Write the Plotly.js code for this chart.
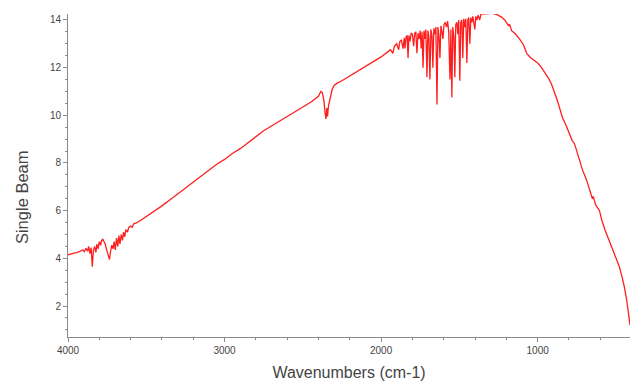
<!DOCTYPE html>
<html>
<head>
<meta charset="utf-8">
<script src="https://cdn.plot.ly/plotly-3.0.1.min.js"></script>
<style>html,body{margin:0;padding:0;background:#fff;}#chart{width:632px;height:383px;}</style>
</head>
<body>
<div id="chart"></div>
<script>
const wavenumbers = [4000,3980,3960,3940,3920,3905,3895,3885,3875,3868,3860,3852,3845,3838,3830,3822,3815,3808,3800,3792,3785,3777,3770,3762,3755,3745,3735,3728,3720,3712,3705,3698,3690,3682,3675,3668,3660,3652,3645,3638,3630,3620,3612,3600,3590,3580,3560,3535,3500,3450,3400,3350,3300,3250,3200,3150,3100,3050,3000,2950,2900,2850,2800,2750,2700,2650,2600,2550,2500,2450,2400,2385,2375,2365,2358,2352,2347,2342,2336,2330,2322,2312,2300,2280,2250,2200,2150,2100,2050,2000,1960,1940,1925,1915,1900,1888,1880,1870,1860,1852,1847,1840,1833,1828,1822,1815,1808,1800,1792,1785,1778,1771,1764,1757,1750,1744,1738,1732,1726,1720,1714,1707,1701,1695,1688,1682,1675,1669,1663,1656,1650,1643,1637,1630,1624,1618,1611,1605,1598,1590,1582,1575,1568,1560,1554,1548,1542,1535,1529,1523,1516,1510,1504,1497,1491,1484,1478,1472,1465,1459,1452,1446,1440,1433,1427,1420,1414,1408,1401,1395,1388,1380,1370,1362,1350,1320,1290,1260,1230,1210,1195,1185,1180,1166,1140,1115,1090,1070,1050,1020,1000,975,950,930,911,890,873,855,841,820,800,780,764,740,713,688,665,655,650,645,630,605,590,570,550,530,510,490,478,460,446,430,418,410];
const singleBeam = [4.15,4.2,4.22,4.25,4.3,4.35,4.28,4.42,4.3,4.5,4.2,4.45,3.65,4.3,4.5,4.25,4.6,4.4,4.7,4.55,4.75,4.8,4.7,4.6,4.4,4.2,3.95,4.3,4.55,4.4,4.7,4.35,4.85,4.5,4.95,4.6,5.0,4.75,5.1,4.9,5.2,5.1,5.3,5.35,5.3,5.45,5.5,5.6,5.75,5.95,6.2,6.45,6.7,6.95,7.2,7.45,7.7,7.95,8.15,8.4,8.6,8.85,9.1,9.35,9.55,9.75,9.95,10.15,10.35,10.55,10.8,11.0,10.95,10.6,10.1,9.85,10.3,9.95,10.4,10.6,10.9,11.1,11.25,11.35,11.45,11.65,11.85,12.05,12.25,12.45,12.65,12.75,12.6,12.9,13.0,12.75,13.1,13.15,12.8,13.25,12.8,13.3,13.35,12.4,13.35,13.1,13.45,13.4,12.9,13.45,13.5,12.6,13.45,13.2,13.55,12.8,13.5,12.0,13.55,13.2,13.6,11.6,13.55,13.3,11.5,13.6,13.35,12.0,13.65,13.4,13.7,10.45,13.7,13.3,12.4,13.75,13.5,13.2,13.8,13.9,13.7,13.95,13.5,11.5,13.6,10.75,13.7,13.3,11.6,13.8,13.9,13.4,14.0,11.45,13.9,14.0,12.4,14.05,13.7,14.05,12.2,14.0,14.1,13.0,14.1,13.9,14.15,13.8,13.6,14.15,14.0,14.2,14.0,14.25,14.25,14.28,14.28,14.22,14.12,14.0,13.85,13.75,13.82,13.55,13.4,13.2,12.95,12.6,12.45,12.3,12.2,12.0,11.75,11.55,11.3,10.95,10.6,10.2,9.9,9.6,9.3,8.95,8.8,8.3,7.7,7.3,6.85,6.65,6.5,6.6,6.25,6.0,5.6,5.2,4.85,4.5,4.15,3.85,3.65,3.2,2.8,2.2,1.6,1.2];
const xTickVals = [4000,3000,2000,1000];
const xTickText = ['4000','3000','2000','1000'];
const yTickVals = [2,4,6,8,10,12,14];

const axisColor = '#8a8a8a';
const textColor = '#444';

Plotly.newPlot('chart', [{
  x: wavenumbers, y: singleBeam, type: 'scatter', mode: 'lines',
  line: {color: 'rgb(255,30,30)', width: 1.3}, hoverinfo: 'skip'
}], {
  width: 632, height: 383,
  margin: {l: 68, r: 2, t: 14, b: 46},
  paper_bgcolor: '#fff', plot_bgcolor: '#fff',
  showlegend: false,
  font: {family: 'Liberation Sans, Arial, sans-serif', color: textColor},
  xaxis: {
    range: [4000, 410], tickmode: 'array', tickvals: xTickVals, ticktext: xTickText,
    showgrid: false, zeroline: false, showline: true, linecolor: axisColor, linewidth: 1,
    ticks: 'outside', ticklen: 4, tickcolor: axisColor,
    minor: {dtick: 200, ticks: 'outside', ticklen: 2, tickcolor: axisColor, showgrid: false},
    tickfont: {size: 10, color: textColor},
    title: {text: 'Wavenumbers (cm-1)', font: {size: 16, color: textColor}, standoff: 11}
  },
  yaxis: {
    range: [0.7, 14.25], tickmode: 'array', tickvals: yTickVals,
    showgrid: false, zeroline: false, showline: true, linecolor: axisColor, linewidth: 1,
    ticks: 'outside', ticklen: 4, tickcolor: axisColor,
    minor: {dtick: 0.5, ticks: 'outside', ticklen: 2, tickcolor: axisColor, showgrid: false},
    tickfont: {size: 10, color: textColor}
  },
  annotations: [{
    text: 'Single Beam', xref: 'paper', yref: 'paper', x: -0.082, y: 0.433,
    xanchor: 'center', yanchor: 'middle', textangle: -90, showarrow: false,
    font: {size: 16.5, color: textColor}
  }]
}, {staticPlot: true, displayModeBar: false});
</script>
</body>
</html>
